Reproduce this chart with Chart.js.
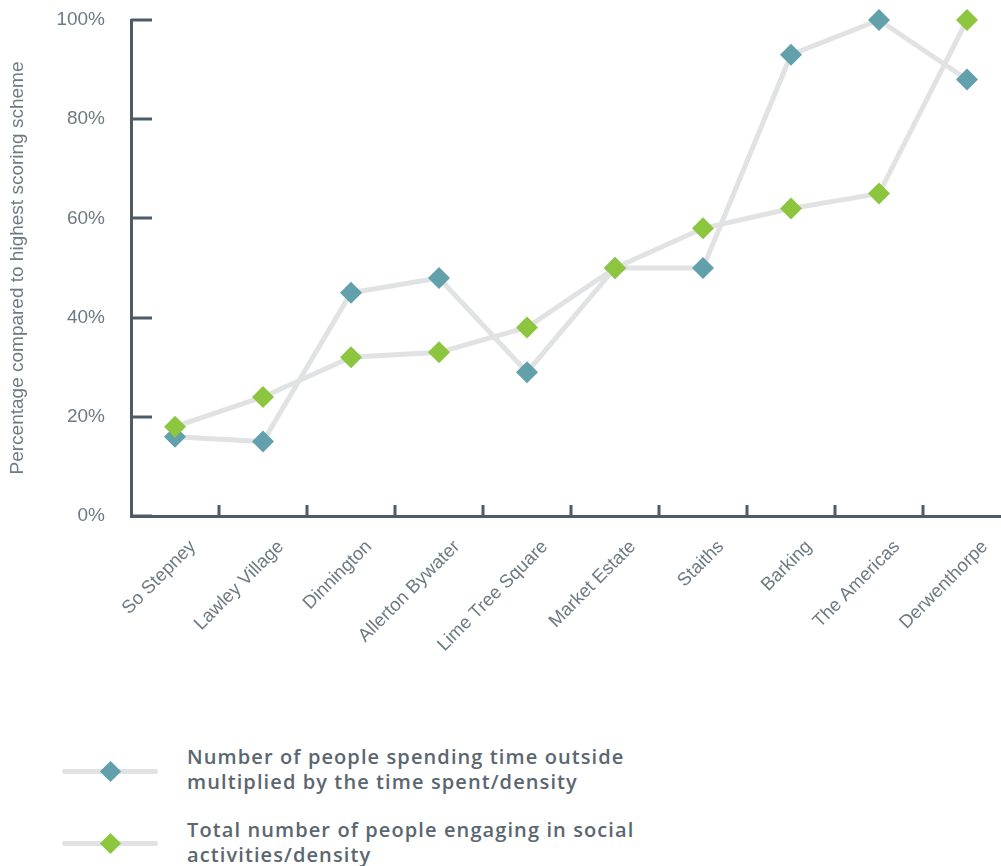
<!DOCTYPE html>
<html>
<head>
<meta charset="utf-8">
<script src="https://cdn.jsdelivr.net/npm/chart.js@4"></script>
<style>
    html, body { margin: 0; padding: 0; background: #fff; overflow: hidden; }
    #wrap { position: relative; width: 1001px; height: 866px; overflow: hidden; }
    #chartBox { position: absolute; left: 0; top: 0; width: 1012px; height: 716px; }
    .legend-item { position: absolute; left: 62px; }
    .legend-line { position: absolute; left: 0; width: 96px; height: 5px; border-radius: 3px; background: #e1e2e3; }
    .legend-diamond { position: absolute; width: 15px; height: 15px; transform: rotate(45deg); }
    .legend-text { position: absolute; left: 125px; width: 600px; font-family: "Open Sans", sans-serif; font-weight: 600; font-size: 20px; letter-spacing: 1.1px; line-height: 25px; color: #5a6670; }
</style>
</head>
<body>
<div id="wrap">
    <div id="chartBox"><canvas id="lineChart1" width="1012" height="716"></canvas></div>
    <div class="legend-item" style="top: 744px;">
        <div class="legend-line" style="top: 25px;"></div>
        <div class="legend-diamond" style="left: 41px; top: 20px; background: #62a0ab;"></div>
        <div class="legend-text" id="legend0" style="top: 0px;"></div>
    </div>
    <div class="legend-item" style="top: 817px;">
        <div class="legend-line" style="top: 24px;"></div>
        <div class="legend-diamond" style="left: 41px; top: 19px; background: #8cc63f;"></div>
        <div class="legend-text" id="legend1" style="top: 0px;"></div>
    </div>
</div>
<script>
const schemes = ['So Stepney', 'Lawley Village', 'Dinnington', 'Allerton Bywater', 'Lime Tree Square',
    'Market Estate', 'Staiths', 'Barking', 'The Americas', 'Derwenthorpe'];
const timeOutside = [16, 15, 45, 48, 29, 50, 50, 93, 100, 88];
const socialActivities = [18, 24, 32, 33, 38, 50, 58, 62, 65, 100];
const seriesNames = [
    ['Number of people spending time outside', 'multiplied by the time spent/density'],
    ['Total number of people engaging in social', 'activities/density']
];
const yTicks = [0, 20, 40, 60, 80, 100];

document.getElementById('legend0').innerHTML = seriesNames[0].join('<br>');
document.getElementById('legend1').innerHTML = seriesNames[1].join('<br>');

const axisColor = '#4f5b66';
const labelColor = '#6d7a84';

// short tick marks drawn inward from the axes
const innerTicks = {
    id: 'innerTicks',
    beforeDatasetsDraw(chart) {
        const ctx = chart.ctx;
        const x = chart.scales.x;
        const y = chart.scales.y;
        const area = chart.chartArea;
        ctx.save();
        ctx.strokeStyle = axisColor;
        ctx.lineWidth = 3;
        yTicks.forEach(function(v) {
            const py = Math.round(y.getPixelForValue(v));
            ctx.beginPath();
            ctx.moveTo(area.left, py);
            ctx.lineTo(area.left + 21, py);
            ctx.stroke();
        });
        for (let i = 1; i <= schemes.length; i++) {
            const px = Math.round((x.getPixelForValue(i - 1) + x.getPixelForValue(i)) / 2);
            ctx.beginPath();
            ctx.moveTo(px, area.bottom);
            ctx.lineTo(px, area.bottom - 11);
            ctx.stroke();
        }
        ctx.restore();
    }
};

const ctx = document.getElementById('lineChart1').getContext('2d');
const lineChart = new Chart(ctx, {
    type: 'line',
    data: {
        labels: schemes,
        datasets: [{
            label: seriesNames[0].join(' '),
            data: timeOutside,
            borderColor: '#e1e2e3',
            borderWidth: 5,
            backgroundColor: '#62a0ab',
            pointStyle: 'rectRot',
            pointRadius: 11,
            pointBorderWidth: 0,
            pointBackgroundColor: '#62a0ab',
            clip: false,
            order: 2
        }, {
            label: seriesNames[1].join(' '),
            data: socialActivities,
            borderColor: '#e1e2e3',
            borderWidth: 5,
            backgroundColor: '#8cc63f',
            pointStyle: 'rectRot',
            pointRadius: 11,
            pointBorderWidth: 0,
            pointBackgroundColor: '#8cc63f',
            clip: false,
            order: 1
        }]
    },
    options: {
        responsive: false,
        animation: false,
        layout: { autoPadding: false, padding: { top: 20, right: 1, left: 0, bottom: 0 } },
        scales: {
            x: {
                offset: true,
                grid: { display: true, drawOnChartArea: false, drawTicks: false, offset: true, color: 'rgba(0,0,0,0)' },
                border: { display: true, color: axisColor, width: 3 },
                ticks: {
                    color: labelColor,
                    font: { family: 'Liberation Sans', size: 18.5 },
                    maxRotation: 45,
                    minRotation: 45,
                    padding: 20,
                    labelOffset: 18,
                    autoSkip: false
                },
                afterFit: function(scale) { scale.height = 200; }
            },
            y: {
                min: 0,
                max: 100,
                grid: { display: true, drawOnChartArea: false, drawTicks: true, tickLength: 20, color: 'rgba(0,0,0,0)', tickColor: 'rgba(0,0,0,0)' },
                border: { display: true, color: axisColor, width: 3 },
                ticks: {
                    stepSize: 20,
                    color: labelColor,
                    font: { family: 'Liberation Sans', size: 19 },
                    padding: 6,
                    callback: function(value) { return value + '%'; }
                },
                title: {
                    display: true,
                    text: 'Percentage compared to highest scoring scheme',
                    color: labelColor,
                    font: { family: 'Liberation Sans', size: 19 },
                    padding: { top: 6, bottom: 0 }
                },
                afterFit: function(scale) { scale.width = 131; }
            }
        },
        plugins: {
            legend: { display: false },
            tooltip: { enabled: false }
        }
    },
    plugins: [innerTicks]
});
</script>
</body>
</html>
